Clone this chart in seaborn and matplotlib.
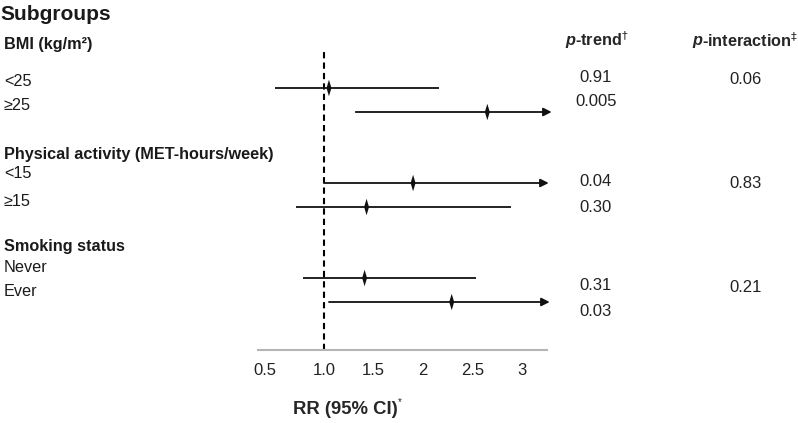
import matplotlib
matplotlib.use("Agg")
import matplotlib.pyplot as plt
import matplotlib.transforms as mtransforms
import seaborn as sns
import pandas as pd

# subgroup data
groups = ["BMI (kg/m²)", "Physical activity (MET-hours/week)", "Smoking status"]
rows = ["<25", "≥25", "<15", "≥15", "Never", "Ever"]
rr = [1.05, 2.65, 1.90, 1.43, 1.41, 2.29]
ci_low = [0.50, 1.32, 1.00, 0.72, 0.79, 1.05]
ci_high = [2.16, 3.30, 3.27, 2.89, 2.54, 3.28]
beyond = [False, True, True, False, False, True]   # CI runs off the axis -> arrow
p_trend = ["0.91", "0.005", "0.04", "0.30", "0.31", "0.03"]
p_interaction = ["0.06", "0.83", "0.21"]
tick_vals = [0.5, 1.0, 1.5, 2.0, 2.5, 3.0]
tick_labels = ["0.5", "1.0", "1.5", "2", "2.5", "3"]

# layout (pixel rows of the figure)
row_y = [88, 112, 183, 207, 278, 302]
label_y = [81, 106, 174, 202, 267, 292]
group_y = [44, 154, 247]
ptrend_y = [77, 102, 182, 207, 286, 311]
pint_y = [80, 184, 288]

df = pd.DataFrame({"row": rows, "rr": rr, "lo": ci_low, "hi": ci_high,
                   "beyond": beyond, "y": row_y})

sns.set_style("white")
plt.rcParams["font.family"] = ["Liberation Sans", "DejaVu Sans"]

W, H = 798, 423
fig = plt.figure(figsize=(W / 100, H / 100), dpi=100)

# background axes in pixel units for all the text
bg = fig.add_axes([0, 0, 1, 1])
bg.set_xlim(0, W)
bg.set_ylim(H, 0)
bg.axis("off")

# forest plot axes
ax = fig.add_axes([258 / W, 1 - 350 / H, (547 - 258) / W, (350 - 51) / H])
ax.set_xlim(0.333, 3.253)
ax.set_ylim(350, 51)
ax.patch.set_alpha(0)

ax.axvline(1.0, color="black", lw=1.5, ls=(0, (3, 2)), zorder=1)

for _, r in df.iterrows():
    if r["beyond"]:
        ax.annotate("", xy=(r["hi"], r["y"]), xytext=(r["lo"], r["y"]),
                    annotation_clip=False,
                    arrowprops=dict(arrowstyle="-|>", color="#111111", lw=1.3,
                                    mutation_scale=12, shrinkA=0, shrinkB=0))
    else:
        ax.hlines(r["y"], r["lo"], r["hi"], color="#111111", lw=1.3)

diamond = [(0, 1), (0.3, 0), (0, -1), (-0.3, 0), (0, 1)]
sns.scatterplot(data=df, x="rr", y="y", marker=diamond, s=140, color="#111111",
                edgecolor="none", ax=ax, zorder=3, legend=False)

ax.set_xticks(tick_vals)
ax.set_xticklabels(tick_labels, fontsize=12, color="#222222")
ax.tick_params(axis="x", length=0, pad=9)
# first label sits a little left of its tick in the original
first = ax.get_xticklabels()[0]
first.set_transform(first.get_transform() +
                    mtransforms.ScaledTranslation(-0.1, 0, fig.dpi_scale_trans))
ax.set_yticks([])
ax.set_xlabel("")
ax.set_ylabel("")
for side in ["top", "left", "right"]:
    ax.spines[side].set_visible(False)
ax.spines["bottom"].set_color("#b5b5b5")
ax.spines["bottom"].set_linewidth(1.5)

# left hand labels
bg.text(0, 15, "Subgroups", fontsize=15, fontweight="bold", va="center", color="#1a1a1a")
for g, y in zip(groups, group_y):
    bg.text(4, y, g, fontsize=11.7, fontweight="bold", va="center", color="#1a1a1a")
for lab, y in zip(rows, label_y):
    bg.text(4, y, lab, fontsize=11.7, va="center", color="#1a1a1a")

# p value columns
bg.text(575, 40, "p", fontsize=11.7, fontweight="bold", style="italic", ha="right", va="center")
bg.text(575, 40, r"-trend$^{\dagger}$", fontsize=11.7, fontweight="bold", ha="left", va="center")
bg.text(702, 41, "p", fontsize=11.7, fontweight="bold", style="italic", ha="right", va="center")
bg.text(702, 41, r"-interaction$^{\ddagger}$", fontsize=11.7, fontweight="bold", ha="left", va="center")
for p, y in zip(p_trend, ptrend_y):
    bg.text(596, y, p, fontsize=12, ha="center", va="center", color="#222222")
for p, y in zip(p_interaction, pint_y):
    bg.text(746, y, p, fontsize=12, ha="center", va="center", color="#222222")

# axis title
bg.text(293, 410, "RR (95% CI)", fontsize=13.3, fontweight="bold", ha="left", va="center")
bg.text(398, 402, "*", fontsize=7, ha="left", va="center")

fig.savefig("out.png", dpi=100)
